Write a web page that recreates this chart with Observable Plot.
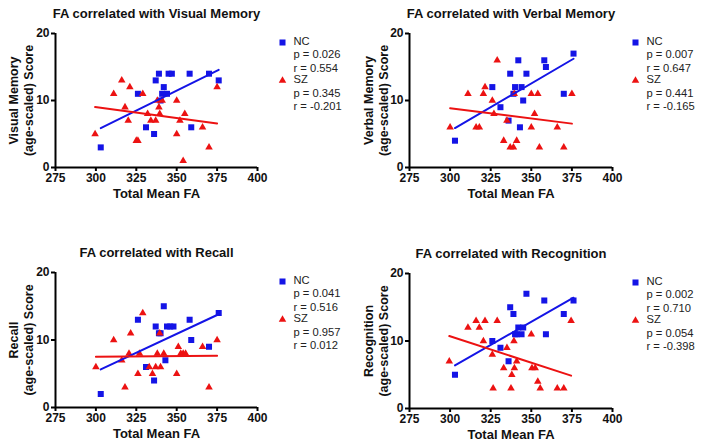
<!DOCTYPE html>
<html>
<head>
<meta charset="utf-8">
<script src="https://cdn.jsdelivr.net/npm/d3@7"></script>
<script src="https://cdn.jsdelivr.net/npm/@observablehq/plot@0.6"></script>
<style>
  html, body { margin: 0; padding: 0; background: #fff; }
  #chart { position: relative; width: 703px; height: 444px; font-family: "Liberation Sans", Arial, sans-serif; }
  .panel { position: absolute; }
</style>
</head>
<body>
<div id="chart"></div>
<script>
// ---- Data: [Total Mean FA, age-scaled score] ----
const visualNC = [[303,3],[326,11],[331,6],[336,5],[337,13],[339,14],[340,10],[341,11],[342,12],[344,11],[345,14],[347,14],[358,14],[359,6],[370,14],[376,13]];
const visualSZ = [[299.5,5],[311,11],[316,13],[318,9],[320,7],[321,12],[325,4],[326,4],[329,11],[332,8],[334,7],[337,7],[338,10],[339,9],[339.5,8],[341,10],[350,10],[350,5],[352,7],[355,8],[354,1],[366,6],[370,3],[375,12]];

const verbalNC = [[303,4],[326,12],[331,9],[336,7],[337,14],[339,11],[340,12],[342,16],[343,6],[344,12],[345,10],[347,14],[358,16],[359,15],[370,11],[376,17]];
const verbalSZ = [[300,6],[311,11],[316,6],[318,6],[320.5,11],[321.5,12],[326,10],[327,8],[329,16],[333,4],[335,7],[337,3],[339,3],[339.5,11],[341,4],[350,11],[354,11],[350,6],[352,8],[355,3],[366,6],[370,3],[375,11]];

const recallNC = [[303,2],[326,13],[331,6],[336,4],[337,12],[339,11],[340,11],[342,15],[343,7],[344,12],[346,12],[348,12],[358,13],[359,10],[370,9],[376,14]];
const recallSZ = [[300,6],[311,10],[316,7],[318,3],[320.5,8],[321.5,11],[326,5],[327,8],[329,14],[333,6],[335,5],[337,6],[338,8],[340,6],[339.5,11],[342,8],[350,5],[351,9],[352.5,8],[354,8],[355.5,8],[366,9],[370,3],[375,10]];

const recogNC = [[303,5],[326,10],[331,9],[336,7],[337,15],[339,14],[340,11],[341,11],[342,12],[344,11],[345,12],[347,17],[358,16],[359,11],[370,14],[376,16]];
const recogSZ = [[299.5,7],[311,12],[316,13],[318,12],[320.5,10],[321.5,13],[326,8],[326.5,3],[329,13],[333,6],[335,9],[337.5,3],[338,5],[339.3,10],[339.6,6],[341,7],[350,11],[350.4,6],[352.4,6],[354,4],[355.5,3],[366,3],[370,3],[374.5,13]];

const titles = ["FA correlated with Visual Memory", "FA correlated with Verbal Memory", "FA correlated with Recall", "FA correlated with Recognition"];
const yLabels = ["Visual Memory\n(age-scaled) Score", "Verbal Memory\n(age-scaled) Score", "Recall\n(age-scaled) Score", "Recognition\n(age-scaled) Score"];
const legendTexts = [
  ["NC\np = 0.026\nr = 0.554", "SZ\np = 0.345\nr = -0.201"],
  ["NC\np = 0.007\nr = 0.647", "SZ\np = 0.441\nr = -0.165"],
  ["NC\np = 0.041\nr = 0.516", "SZ\np = 0.957\nr = 0.012"],
  ["NC\np = 0.002\nr = 0.710", "SZ\np = 0.054\nr = -0.398"]
];
const xTicks = [275, 300, 325, 350, 375, 400];
const yTicks = [0, 10, 20];
const xLabel = "Total Mean FA";

const BLUE = "#1414e6";
const RED = "#ec1212";
const FONT = "Liberation Sans, Arial, sans-serif";

const panels = [
  {nc: visualNC, sz: visualSZ, left: 0,   top: 0,   w: 350, h: 220, m: [33, 93, 53, 55], ydx: -34.5, ldx: 25},
  {nc: verbalNC, sz: verbalSZ, left: 350, top: 0,   w: 353, h: 220, m: [33, 91, 53, 59], ydx: -33.5, ldx: 23},
  {nc: recallNC, sz: recallSZ, left: 0,   top: 220, w: 350, h: 224, m: [52, 93, 37, 55], ydx: -34.5, ldx: 25},
  {nc: recogNC,  sz: recogSZ,  left: 350, top: 220, w: 353, h: 224, m: [53, 91, 36, 59], ydx: -33.5, ldx: 23}
];

const chart = document.getElementById("chart");

panels.forEach((p, i) => {
  const svg = Plot.plot({
    width: p.w,
    height: p.h,
    marginTop: p.m[0], marginRight: p.m[1], marginBottom: p.m[2], marginLeft: p.m[3],
    style: {fontFamily: FONT, overflow: "visible", background: "transparent"},
    x: {domain: [275, 400]},
    y: {domain: [0, 20]},
    marks: [
      Plot.axisX({ticks: xTicks, tickSize: 4, strokeWidth: 2, tickPadding: 2, fontSize: 12, fontWeight: "bold", fill: "#111", label: null}),
      Plot.axisY({ticks: yTicks, tickSize: 4, strokeWidth: 2, tickPadding: 2, fontSize: 12, fontWeight: "bold", fill: "#111", label: null}),
      Plot.ruleX([275], {stroke: "#000", strokeWidth: 2}),
      Plot.ruleY([0], {stroke: "#000", strokeWidth: 2}),
      Plot.dot(p.nc, {x: d => d[0], y: d => d[1], symbol: "square", fill: BLUE, r: 3.4}),
      Plot.dot(p.sz, {x: d => d[0], y: d => d[1], symbol: "triangle", fill: RED, r: 2.8}),
      Plot.linearRegressionY(p.nc, {x: d => d[0], y: d => d[1], stroke: BLUE, strokeWidth: 2, ci: 0}),
      Plot.linearRegressionY(p.sz, {x: d => d[0], y: d => d[1], stroke: RED, strokeWidth: 2, ci: 0}),
      // title
      Plot.text([titles[i]], {frameAnchor: "top", dy: -20, lineAnchor: "middle", fontSize: 13, fontWeight: "bold", fill: "#111"}),
      // x label
      Plot.text([xLabel], {frameAnchor: "bottom", dy: 26, lineAnchor: "middle", fontSize: 13, fontWeight: "bold", fill: "#111"}),
      // y label
      Plot.text([yLabels[i]], {frameAnchor: "left", dx: p.ydx, rotate: -90, textAnchor: "middle", lineAnchor: "middle", fontSize: 12.5, fontWeight: "bold", lineHeight: 1.2, fill: "#111"}),
      // legend symbols
      Plot.dot([0], {frameAnchor: "top-right", dx: p.ldx, dy: 9, symbol: "square", fill: BLUE, r: 3.4}),
      Plot.dot([0], {frameAnchor: "top-right", dx: p.ldx, dy: 47, symbol: "triangle", fill: RED, r: 2.8}),
      // legend texts
      Plot.text([legendTexts[i][0]], {frameAnchor: "top-right", dx: p.ldx + 11, dy: 2, textAnchor: "start", lineAnchor: "top", fontSize: 11.2, lineHeight: 1.19, fill: "#222"}),
      Plot.text([legendTexts[i][1]], {frameAnchor: "top-right", dx: p.ldx + 11, dy: 40.3, textAnchor: "start", lineAnchor: "top", fontSize: 11.2, lineHeight: 1.19, fill: "#222"})
    ]
  });
  const div = document.createElement("div");
  div.className = "panel";
  div.style.left = p.left + "px";
  div.style.top = p.top + "px";
  div.appendChild(svg);
  chart.appendChild(div);
});
</script>
</body>
</html>
